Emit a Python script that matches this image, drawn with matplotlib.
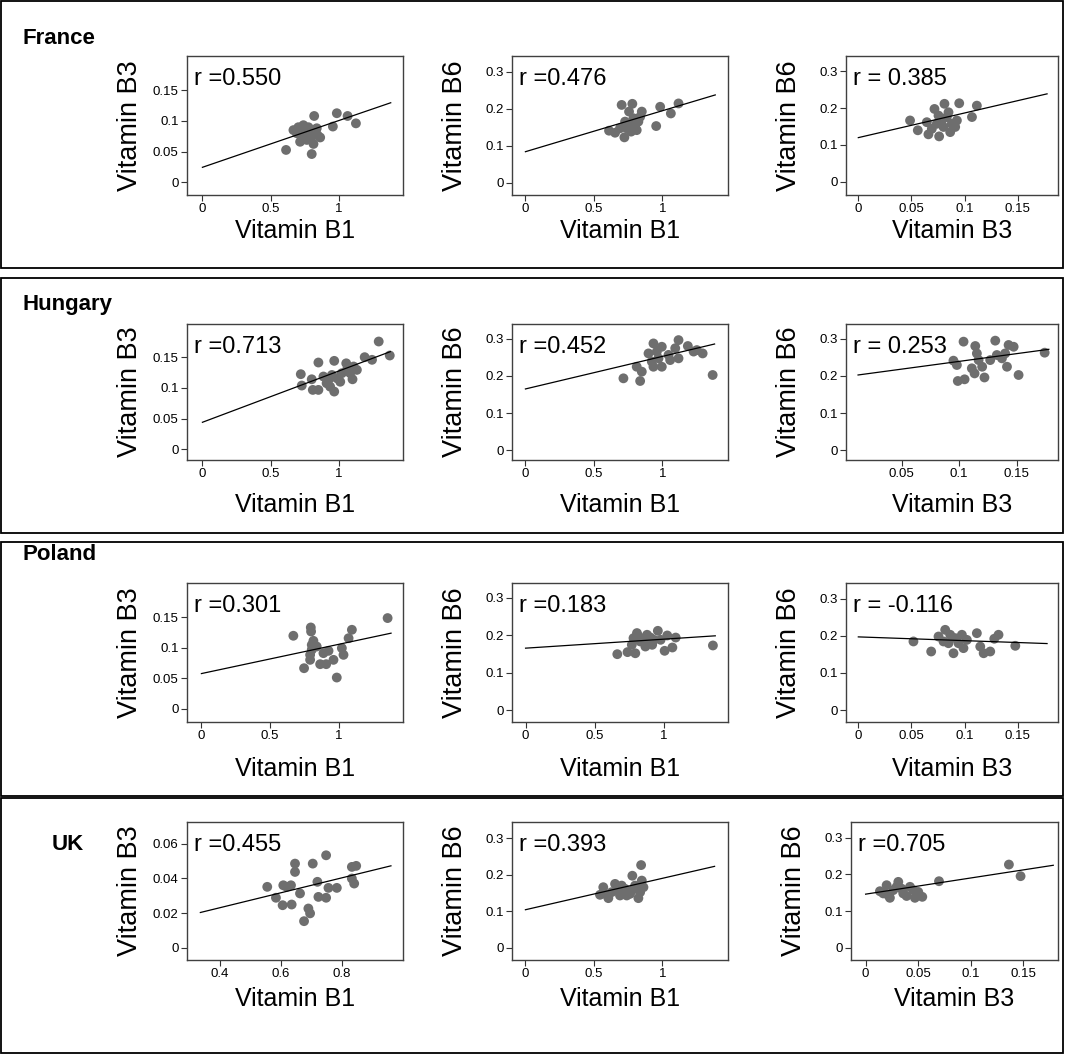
import matplotlib
matplotlib.use('Agg')
import matplotlib.pyplot as plt
from matplotlib.patches import Rectangle
from matplotlib.ticker import FuncFormatter

plt.rcParams['font.family'] = ['Liberation Sans', 'DejaVu Sans']

W, H = 1065, 1054

countries = ['France', 'Hungary', 'Poland', 'UK']
x_names = ['Vitamin B1', 'Vitamin B1', 'Vitamin B3']
y_names = ['Vitamin B3', 'Vitamin B6', 'Vitamin B6']
r_labels = [['r =0.550', 'r =0.476', 'r = 0.385'],
            ['r =0.713', 'r =0.452', 'r = 0.253'],
            ['r =0.301', 'r =0.183', 'r = -0.116'],
            ['r =0.455', 'r =0.393', 'r =0.705']]

# ---------------- data ----------------
fr_b1_b3_x = [0.613, 0.819, 0.985, 1.064, 1.125, 0.956, 0.801, 0.814, 0.667, 0.703, 0.728, 0.752,
              0.777, 0.716, 0.838, 0.843, 0.801, 0.765, 0.691, 0.863, 0.814, 0.740]
fr_b1_b3_y = [0.0527, 0.108, 0.1125, 0.108, 0.096, 0.0908, 0.046, 0.0625, 0.085, 0.0897, 0.0745, 0.0826,
              0.0897, 0.066, 0.088, 0.077, 0.0745, 0.069, 0.080, 0.073, 0.085, 0.093]

fr_b1_b6_x = [0.702, 0.780, 0.983, 1.117, 1.061, 0.954, 0.849, 0.610, 0.654, 0.722, 0.756,
              0.727, 0.763, 0.800, 0.824, 0.788, 0.739, 0.812, 0.771, 0.690, 0.837]
fr_b1_b6_y = [0.210, 0.213, 0.205, 0.214, 0.187, 0.153, 0.192, 0.1405, 0.135, 0.1225, 0.192,
              0.165, 0.156, 0.151, 0.165, 0.174, 0.147, 0.142, 0.138, 0.147, 0.178]

fr_b3_b6_x = [0.0487, 0.056, 0.066, 0.0761, 0.0645, 0.0717, 0.0811, 0.095, 0.1116, 0.107, 0.0865,
              0.0755, 0.0786, 0.0833, 0.088, 0.0912, 0.0802, 0.0739, 0.0849, 0.0928, 0.0692]
fr_b3_b6_y = [0.1667, 0.140, 0.129, 0.1234, 0.162, 0.198, 0.212, 0.2135, 0.207, 0.176, 0.135,
              0.180, 0.1667, 0.1757, 0.1577, 0.149, 0.149, 0.1577, 0.189, 0.1667, 0.144]

hu_b1_b3_x = [1.292, 1.373, 1.243, 1.189, 0.721, 0.728, 0.850, 0.966, 1.054, 1.100, 0.809, 0.850,
              0.966, 0.936, 0.801, 0.887, 0.924, 0.985, 1.022, 1.059, 1.108, 1.132, 1.010, 0.949,
              1.083, 0.910]
hu_b1_b3_y = [0.1755, 0.1527, 0.1457, 0.150, 0.1223, 0.1038, 0.1413, 0.144, 0.140, 0.114, 0.0967, 0.0967,
              0.094, 0.102, 0.114, 0.1185, 0.113, 0.1158, 0.1239, 0.1293, 0.1348, 0.1293, 0.110, 0.121,
              0.1239, 0.1076]

hu_b1_b6_x = [0.715, 0.837, 0.812, 0.849, 0.934, 0.995, 1.117, 1.185, 1.251, 1.293, 1.366, 0.898,
              0.934, 0.995, 1.056, 1.117, 1.093, 0.971, 0.959, 1.044, 0.922, 1.227]
hu_b1_b6_y = [0.1937, 0.1865, 0.225, 0.2117, 0.288, 0.279, 0.297, 0.281, 0.270, 0.261, 0.2027, 0.261,
              0.225, 0.225, 0.243, 0.2477, 0.275, 0.2477, 0.266, 0.257, 0.239, 0.266]

hu_b3_b6_x = [0.1038, 0.1314, 0.114, 0.095, 0.098, 0.0988, 0.1047, 0.1134, 0.120, 0.122, 0.1154,
              0.1169, 0.127, 0.1328, 0.1372, 0.143, 0.1474, 0.1416, 0.1517, 0.1744, 0.140, 0.111]
hu_b3_b6_y = [0.2928, 0.2955, 0.281, 0.2414, 0.2297, 0.1865, 0.191, 0.207, 0.225, 0.196, 0.261,
              0.243, 0.243, 0.2567, 0.2477, 0.2838, 0.279, 0.225, 0.2027, 0.263, 0.261, 0.2207]

pl_b1_b3_x = [1.355, 0.669, 0.796, 0.798, 1.095, 1.071, 0.815, 0.747, 0.985, 0.864, 0.908, 0.961,
              0.791, 1.022, 1.034, 0.925, 0.888, 0.803, 0.839, 0.791, 0.803]
pl_b1_b3_y = [0.149, 0.120, 0.1336, 0.127, 0.1298, 0.116, 0.1117, 0.0668, 0.0515, 0.0734, 0.0734, 0.0805,
              0.0805, 0.0997, 0.0887, 0.0953, 0.0915, 0.097, 0.1024, 0.0887, 0.105]

pl_b1_b6_x = [0.663, 0.737, 0.793, 1.354, 0.956, 1.005, 1.061, 1.024, 1.085, 0.805, 0.878, 0.780,
              0.829, 0.866, 0.915, 0.927, 0.976, 0.817, 0.854, 0.768, 0.902]
pl_b1_b6_y = [0.1495, 0.155, 0.152, 0.1728, 0.212, 0.1585, 0.1674, 0.1996, 0.194, 0.206, 0.2014, 0.1925,
              0.1835, 0.170, 0.1746, 0.188, 0.188, 0.197, 0.1835, 0.1746, 0.194]

pl_b3_b6_x = [0.0519, 0.0686, 0.0896, 0.1116, 0.132, 0.128, 0.1478, 0.118, 0.1242, 0.1148, 0.0818,
              0.0755, 0.0865, 0.0975, 0.1022, 0.0943, 0.0849, 0.099, 0.0802, 0.0912]
pl_b3_b6_y = [0.1847, 0.1577, 0.153, 0.207, 0.2027, 0.192, 0.173, 0.153, 0.1577, 0.171, 0.216,
              0.198, 0.2027, 0.2027, 0.189, 0.180, 0.180, 0.1667, 0.1847, 0.1937]

uk_b1_b3_x = [0.5556, 0.5841, 0.606, 0.6082, 0.6334, 0.6356, 0.6466, 0.6466, 0.663, 0.6762, 0.6904,
              0.696, 0.7047, 0.720, 0.7233, 0.7485, 0.7485, 0.7562, 0.7836, 0.8329, 0.8471, 0.8329,
              0.8405, 0.6192]
uk_b1_b3_y = [0.0351, 0.0288, 0.0245, 0.036, 0.036, 0.0249, 0.0485, 0.0437, 0.0313, 0.0153, 0.0226,
              0.0198, 0.0485, 0.038, 0.0293, 0.0533, 0.0288, 0.0345, 0.0345, 0.0466, 0.0472, 0.0399,
              0.037, 0.0351]

uk_b1_b6_x = [0.844, 0.780, 0.849, 0.568, 0.544, 0.605, 0.654, 0.702, 0.739, 0.824, 0.837, 0.629,
              0.678, 0.727, 0.776, 0.800, 0.580, 0.690, 0.763, 0.861]
uk_b1_b6_y = [0.2262, 0.197, 0.1837, 0.1656, 0.1448, 0.1357, 0.1747, 0.170, 0.143, 0.1357, 0.152, 0.152,
              0.1566, 0.161, 0.1566, 0.170, 0.1475, 0.143, 0.1475, 0.1656]

uk_b3_b6_x = [0.1363, 0.1474, 0.0698, 0.0231, 0.0469, 0.0539, 0.020, 0.0311, 0.0136, 0.0263, 0.0358,
              0.0422, 0.0501, 0.0168, 0.039, 0.0295, 0.0454, 0.0342, 0.0216]
uk_b3_b6_y = [0.2267, 0.195, 0.1813, 0.136, 0.136, 0.1387, 0.1704, 0.1795, 0.154, 0.157, 0.148,
              0.166, 0.152, 0.148, 0.141, 0.166, 0.157, 0.161, 0.143]

# fitted regression lines: (x start, x end, intercept, slope)
fit_lines = [[(0, 1.38, 0.0244, 0.0762), (0, 1.385, 0.0838, 0.1106), (0, 0.1777, 0.120, 0.67)],
             [(0, 1.377, 0.044, 0.0835), (0, 1.38, 0.165, 0.088), (0.012, 0.178, 0.1977, 0.418)],
             [(0, 1.38, 0.058, 0.048), (0, 1.371, 0.1656, 0.0241), (0, 0.1777, 0.197, -0.101)],
             [(0.3364, 0.961, 0.0058, 0.0431), (0, 1.38, 0.104, 0.086), (0, 0.1785, 0.146, 0.441)]]

points = [[(fr_b1_b3_x, fr_b1_b3_y), (fr_b1_b6_x, fr_b1_b6_y), (fr_b3_b6_x, fr_b3_b6_y)],
          [(hu_b1_b3_x, hu_b1_b3_y), (hu_b1_b6_x, hu_b1_b6_y), (hu_b3_b6_x, hu_b3_b6_y)],
          [(pl_b1_b3_x, pl_b1_b3_y), (pl_b1_b6_x, pl_b1_b6_y), (pl_b3_b6_x, pl_b3_b6_y)],
          [(uk_b1_b3_x, uk_b1_b3_y), (uk_b1_b6_x, uk_b1_b6_y), (uk_b3_b6_x, uk_b3_b6_y)]]

# tick values
b1_ticks = [0, 0.5, 1]
b3x_ticks = [0, 0.05, 0.1, 0.15]
b3y_ticks = [0, 0.05, 0.1, 0.15]
b6_ticks = [0, 0.1, 0.2, 0.3]
xticks = [[b1_ticks, b1_ticks, b3x_ticks],
          [b1_ticks, b1_ticks, [0.05, 0.1, 0.15]],
          [b1_ticks, b1_ticks, b3x_ticks],
          [[0.4, 0.6, 0.8], b1_ticks, b3x_ticks]]
yticks = [[b3y_ticks, b6_ticks, b6_ticks],
          [b3y_ticks, b6_ticks, b6_ticks],
          [b3y_ticks, b6_ticks, b6_ticks],
          [[0, 0.02, 0.04, 0.06], b6_ticks, b6_ticks]]

# ---------------- layout ----------------
xlims = [[(-0.113, 1.47), (-0.098, 1.478), (-0.0116, 0.188)],
         [(-0.113, 1.47), (-0.098, 1.478), (0.0015, 0.186)],
         [(-0.105, 1.467), (-0.098, 1.463), (-0.0116, 0.188)],
         [(0.2926, 1.0005), (-0.098, 1.478), (-0.0139, 0.183)]]
ylims = [[(-0.0207, 0.2057), (-0.033, 0.342), (-0.036, 0.342)],
         [(-0.0174, 0.204), (-0.027, 0.3405), (-0.027, 0.3405)],
         [(-0.0214, 0.2065), (-0.032, 0.340), (-0.032, 0.342)],
         [(-0.0071, 0.0725), (-0.0335, 0.344), (-0.0335, 0.3427)]]

col_lr = [(187, 403), (512, 728), (846, 1058)]
row_tb = [(56, 195), (324, 460), (583, 722), (822, 960)]
xlabel_gap = [24, 33, 35, 27]
boxes = [(1, 1, 1063, 268), (1, 278, 1063, 533), (1, 542, 1063, 796), (1, 798, 1063, 1053)]
country_pos = [(22, 38), (22, 305), (22, 555), (52, 845)]

fig = plt.figure(figsize=(W / 100, H / 100), dpi=100)

for (x0, y0, x1, y1) in boxes:
    fig.add_artist(Rectangle((x0 / W, 1 - y1 / H), (x1 - x0) / W, (y1 - y0) / H,
                             transform=fig.transFigure, fill=False, ec='black', lw=1.3))

for i, c in enumerate(countries):
    fig.text(country_pos[i][0] / W, 1 - country_pos[i][1] / H, c, fontsize=16,
             fontweight='bold', ha='left', va='center')

fmt = FuncFormatter(lambda v, p: f'{v:g}')

for i in range(4):
    t, b = row_tb[i]
    for j in range(3):
        l, r = col_lr[j]
        if i == 3 and j == 2:
            l = 851
        ax = fig.add_axes([l / W, 1 - b / H, (r - l) / W, (b - t) / H])
        xs, ys = points[i][j]
        ax.scatter(xs, ys, s=50, color='#6e6e6e', edgecolors='none', zorder=3)
        lx0, lx1, b0, m = fit_lines[i][j]
        ax.plot([lx0, lx1], [b0 + m * lx0, b0 + m * lx1], color='black', lw=0.9, zorder=4)
        ax.set_xlim(*xlims[i][j])
        ax.set_ylim(*ylims[i][j])
        ax.set_xticks(xticks[i][j])
        ax.set_yticks(yticks[i][j])
        ax.xaxis.set_major_formatter(fmt)
        ax.yaxis.set_major_formatter(fmt)
        ax.tick_params(direction='out', length=4, width=0.8, labelsize=9.5, pad=2,
                       color='#333333')
        for s in ax.spines.values():
            s.set_color('#404040')
            s.set_linewidth(1.0)
        wpx, hpx = r - l, b - t
        ax.set_xlabel(x_names[j], fontsize=18)
        ax.xaxis.set_label_coords(0.5, -(xlabel_gap[i]) / hpx)
        ax.xaxis.label.set_va('top')
        ax.set_ylabel(y_names[j], fontsize=19.5)
        ax.yaxis.set_label_coords(-44 / wpx, 0.5)
        ax.text(7 / wpx, 1 - 23 / hpx, r_labels[i][j], transform=ax.transAxes,
                fontsize=17, ha='left', va='center')

fig.savefig('out.png', dpi=100)
